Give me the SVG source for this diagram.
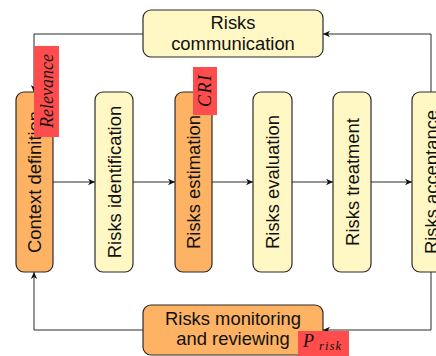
<svg xmlns="http://www.w3.org/2000/svg" width="436" height="356" viewBox="0 0 436 356">
<style>
.box{stroke:#2b2b2b;stroke-width:1.2}
.y{fill:#fff8c4}
.o{fill:#fdb363}
.t{font-family:"Liberation Sans",Arial,sans-serif;font-size:18.4px;fill:#111;text-anchor:middle}
.v{dominant-baseline:central}
.c{fill:none;stroke:#2b2b2b;stroke-width:1}
.tag{fill:#ff4d4d}
.m{font-family:"Liberation Serif","Times New Roman",serif;font-style:italic;fill:#111}
</style>
<defs>
<marker id="ah" markerUnits="userSpaceOnUse" markerWidth="10" markerHeight="10" viewBox="-8 -5 10 10" refX="0" refY="0" orient="auto">
<path d="M0,0 L-7,-3.2 L-5,0 L-7,3.2 z" fill="#111"/>
</marker>
</defs>
<g id="connectors">
<line class="c" x1="53" y1="182" x2="95" y2="182" marker-end="url(#ah)"/>
<line class="c" x1="133" y1="182" x2="175" y2="182" marker-end="url(#ah)"/>
<line class="c" x1="212" y1="182" x2="253" y2="182" marker-end="url(#ah)"/>
<line class="c" x1="292" y1="182" x2="333" y2="182" marker-end="url(#ah)"/>
<line class="c" x1="371" y1="182" x2="412" y2="182" marker-end="url(#ah)"/>
<polyline class="c" points="431,92 431,34 323,34" marker-end="url(#ah)"/>
<polyline class="c" points="143,34 34,34 34,92" marker-end="url(#ah)"/>
<polyline class="c" points="431,272 431,330 323,330" marker-end="url(#ah)"/>
<polyline class="c" points="143,330 34,330 34,272" marker-end="url(#ah)"/>
</g>
<g id="communication">
<rect class="box y" x="143" y="10" width="180" height="47" rx="8"/>
<text class="t" x="233" y="29">Risks</text>
<text class="t" x="233" y="50">communication</text>
</g>
<g id="context">
<rect class="box o" x="16" y="92" width="37" height="180" rx="8"/>
<text class="t v" transform="translate(34.5,182) rotate(-90)">Context definition</text>
</g>
<g id="identification">
<rect class="box y" x="95" y="92" width="38" height="180" rx="8"/>
<text class="t v" transform="translate(114,182) rotate(-90)">Risks identification</text>
</g>
<g id="estimation">
<rect class="box o" x="175" y="92" width="37" height="180" rx="8"/>
<text class="t v" transform="translate(193.5,182) rotate(-90)">Risks estimation</text>
</g>
<g id="evaluation">
<rect class="box y" x="253" y="92" width="39" height="180" rx="8"/>
<text class="t v" transform="translate(272.5,182) rotate(-90)">Risks evaluation</text>
</g>
<g id="treatment">
<rect class="box y" x="333" y="92" width="38" height="180" rx="8"/>
<text class="t v" transform="translate(352,182) rotate(-90)">Risks treatment</text>
</g>
<g id="acceptance">
<rect class="box y" x="412" y="92" width="38" height="180" rx="8"/>
<text class="t v" transform="translate(431,182) rotate(-90)">Risks acceptance</text>
</g>
<g id="monitoring">
<rect class="box o" x="143" y="305" width="180" height="50" rx="8"/>
<text class="t" x="233" y="325">Risks monitoring</text>
<text class="t" x="233" y="345">and reviewing</text>
</g>
<g id="relevance-label">
<rect class="tag" x="34" y="46" width="25" height="91"/>
<text class="m v" font-size="18" text-anchor="middle" textLength="74" lengthAdjust="spacing" transform="translate(47,91) rotate(-90)">Relevance</text>
</g>
<g id="cri-label">
<rect class="tag" x="193" y="67" width="24" height="48"/>
<text class="m v" font-size="18" text-anchor="middle" textLength="32" lengthAdjust="spacing" transform="translate(205,91) rotate(-90)">CRI</text>
</g>
<g id="prisk-label">
<rect class="tag" x="298" y="331" width="51" height="25"/>
<text class="m" x="303" y="347" font-size="18">P</text>
<text class="m" x="319" y="350" font-size="12.5" textLength="22" lengthAdjust="spacing">risk</text>
</g>
</svg>
